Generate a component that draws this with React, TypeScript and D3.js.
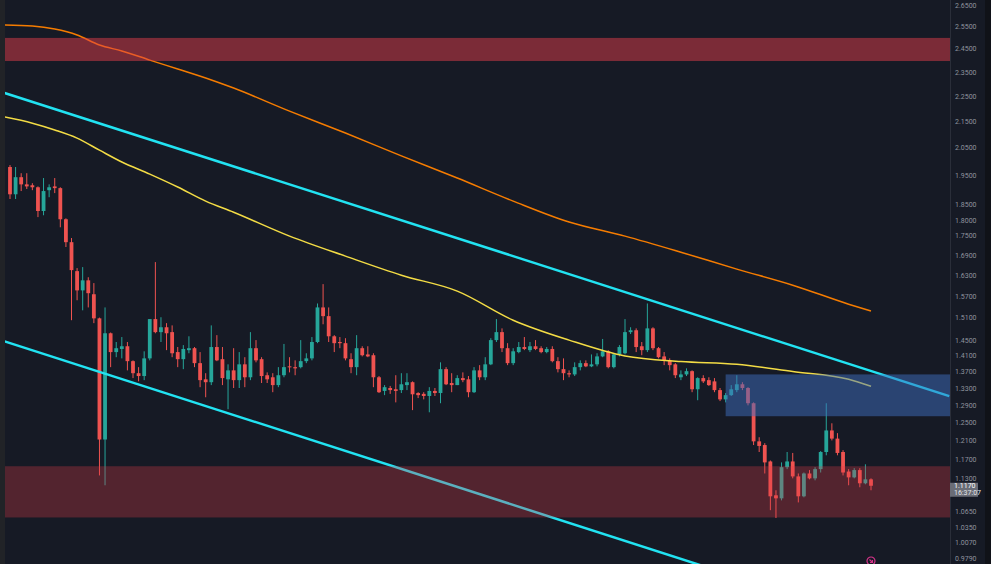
import * as d3 from "d3";

// OHLC per candle (log price axis)
const candles: [number, number, number, number][] = [
  [1.983, 1.990, 1.872, 1.888], [1.888, 1.983, 1.872, 1.947], [1.947, 1.961, 1.899, 1.922], [1.922, 1.961, 1.906, 1.915],
  [1.919, 1.926, 1.902, 1.912], [1.912, 1.915, 1.812, 1.832], [1.832, 1.944, 1.818, 1.899], [1.902, 1.922, 1.878, 1.912],
  [1.915, 1.944, 1.892, 1.909], [1.909, 1.912, 1.779, 1.805], [1.805, 1.808, 1.717, 1.732], [1.732, 1.745, 1.505, 1.647],
  [1.644, 1.653, 1.560, 1.588], [1.588, 1.656, 1.532, 1.617], [1.617, 1.626, 1.540, 1.580], [1.577, 1.609, 1.497, 1.510],
  [1.510, 1.512, 1.138, 1.214], [1.214, 1.540, 1.118, 1.470], [1.470, 1.472, 1.383, 1.421], [1.421, 1.447, 1.408, 1.431],
  [1.429, 1.460, 1.405, 1.436], [1.436, 1.447, 1.375, 1.398], [1.398, 1.400, 1.356, 1.368], [1.368, 1.383, 1.348, 1.361],
  [1.361, 1.423, 1.351, 1.405], [1.405, 1.508, 1.400, 1.508], [1.508, 1.671, 1.470, 1.473], [1.473, 1.513, 1.447, 1.486],
  [1.486, 1.497, 1.426, 1.470], [1.473, 1.491, 1.408, 1.418], [1.421, 1.434, 1.383, 1.403], [1.403, 1.439, 1.378, 1.429],
  [1.426, 1.462, 1.418, 1.431], [1.431, 1.434, 1.383, 1.393], [1.393, 1.421, 1.334, 1.351], [1.353, 1.368, 1.310, 1.346],
  [1.346, 1.491, 1.339, 1.434], [1.434, 1.465, 1.398, 1.400], [1.403, 1.434, 1.339, 1.356], [1.353, 1.390, 1.282, 1.375],
  [1.375, 1.431, 1.332, 1.351], [1.351, 1.421, 1.332, 1.390], [1.390, 1.408, 1.334, 1.358], [1.358, 1.473, 1.351, 1.431],
  [1.431, 1.452, 1.395, 1.400], [1.403, 1.408, 1.344, 1.361], [1.363, 1.370, 1.344, 1.353], [1.358, 1.368, 1.322, 1.339],
  [1.339, 1.383, 1.334, 1.363], [1.363, 1.442, 1.358, 1.383], [1.385, 1.408, 1.370, 1.383], [1.383, 1.400, 1.363, 1.380],
  [1.383, 1.452, 1.380, 1.398], [1.398, 1.418, 1.393, 1.405], [1.405, 1.460, 1.400, 1.447], [1.447, 1.551, 1.444, 1.540],
  [1.540, 1.606, 1.494, 1.516], [1.516, 1.540, 1.447, 1.462], [1.462, 1.465, 1.421, 1.444], [1.447, 1.460, 1.431, 1.444],
  [1.444, 1.457, 1.400, 1.405], [1.403, 1.418, 1.368, 1.383], [1.383, 1.465, 1.363, 1.431], [1.431, 1.436, 1.410, 1.413],
  [1.415, 1.436, 1.408, 1.410], [1.413, 1.418, 1.334, 1.358], [1.358, 1.361, 1.320, 1.322], [1.325, 1.339, 1.315, 1.334],
  [1.332, 1.337, 1.318, 1.327], [1.329, 1.363, 1.298, 1.325], [1.327, 1.368, 1.320, 1.341], [1.339, 1.368, 1.327, 1.346],
  [1.346, 1.348, 1.280, 1.317], [1.320, 1.322, 1.308, 1.315], [1.318, 1.322, 1.305, 1.313], [1.313, 1.334, 1.275, 1.325],
  [1.325, 1.332, 1.313, 1.320], [1.320, 1.395, 1.296, 1.378], [1.378, 1.383, 1.339, 1.341], [1.344, 1.368, 1.322, 1.339],
  [1.339, 1.363, 1.339, 1.356], [1.356, 1.370, 1.346, 1.351], [1.353, 1.361, 1.310, 1.322], [1.322, 1.383, 1.320, 1.375],
  [1.375, 1.388, 1.351, 1.358], [1.358, 1.408, 1.351, 1.390], [1.390, 1.457, 1.388, 1.452], [1.452, 1.508, 1.447, 1.473],
  [1.473, 1.483, 1.421, 1.431], [1.431, 1.444, 1.388, 1.393], [1.393, 1.431, 1.388, 1.423], [1.421, 1.447, 1.418, 1.434],
  [1.434, 1.460, 1.426, 1.429], [1.426, 1.447, 1.421, 1.436], [1.436, 1.452, 1.426, 1.429], [1.431, 1.436, 1.418, 1.421],
  [1.421, 1.434, 1.418, 1.429], [1.429, 1.436, 1.395, 1.398], [1.398, 1.408, 1.370, 1.378], [1.378, 1.405, 1.351, 1.368],
  [1.368, 1.375, 1.358, 1.365], [1.365, 1.395, 1.361, 1.383], [1.383, 1.400, 1.375, 1.393], [1.393, 1.400, 1.383, 1.385],
  [1.385, 1.415, 1.383, 1.390], [1.390, 1.418, 1.385, 1.410], [1.410, 1.455, 1.408, 1.423], [1.423, 1.426, 1.380, 1.383],
  [1.383, 1.418, 1.380, 1.415], [1.415, 1.439, 1.410, 1.434], [1.418, 1.508, 1.415, 1.473], [1.473, 1.486, 1.468, 1.478],
  [1.478, 1.483, 1.421, 1.434], [1.436, 1.447, 1.413, 1.426], [1.426, 1.551, 1.421, 1.483], [1.483, 1.486, 1.426, 1.431],
  [1.431, 1.434, 1.405, 1.408], [1.410, 1.421, 1.388, 1.400], [1.400, 1.405, 1.375, 1.388], [1.390, 1.393, 1.356, 1.363],
  [1.358, 1.375, 1.351, 1.365], [1.365, 1.380, 1.361, 1.373], [1.373, 1.375, 1.322, 1.329], [1.329, 1.358, 1.303, 1.356],
  [1.356, 1.363, 1.344, 1.348], [1.351, 1.358, 1.337, 1.339], [1.348, 1.356, 1.322, 1.327], [1.327, 1.332, 1.301, 1.305],
  [1.305, 1.320, 1.298, 1.315], [1.315, 1.339, 1.313, 1.329], [1.327, 1.363, 1.322, 1.341], [1.341, 1.346, 1.327, 1.332],
  [1.332, 1.334, 1.291, 1.296], [1.296, 1.298, 1.202, 1.210], [1.210, 1.219, 1.187, 1.200], [1.202, 1.206, 1.142, 1.165],
  [1.167, 1.169, 1.069, 1.096], [1.098, 1.108, 1.054, 1.092], [1.092, 1.165, 1.088, 1.155], [1.155, 1.187, 1.151, 1.167],
  [1.167, 1.185, 1.132, 1.136], [1.136, 1.142, 1.084, 1.096], [1.096, 1.144, 1.094, 1.142], [1.142, 1.149, 1.130, 1.132],
  [1.132, 1.155, 1.128, 1.151], [1.151, 1.189, 1.144, 1.187], [1.187, 1.296, 1.180, 1.234], [1.234, 1.250, 1.212, 1.216],
  [1.216, 1.228, 1.180, 1.185], [1.187, 1.191, 1.138, 1.144], [1.146, 1.151, 1.118, 1.134], [1.134, 1.153, 1.132, 1.149],
  [1.149, 1.153, 1.114, 1.122], [1.122, 1.161, 1.120, 1.130], [1.130, 1.132, 1.108, 1.117],
];

// moving averages sampled at candle indices
const maIndex = [-1, 4, 8, 12, 16, 20, 25, 30, 35, 40, 50, 60, 70, 80, 90, 100, 110, 120, 130, 140, 150, 154];
const maSlow = [2.561, 2.556, 2.542, 2.515, 2.470, 2.444, 2.404, 2.366, 2.328, 2.286, 2.193, 2.108, 2.023, 1.944, 1.865, 1.796, 1.751, 1.701, 1.650, 1.603, 1.549, 1.530];
const maFast = [2.170, 2.146, 2.120, 2.089, 2.044, 2.001, 1.958, 1.913, 1.865, 1.828, 1.751, 1.689, 1.632, 1.586, 1.505, 1.452, 1.411, 1.397, 1.390, 1.372, 1.353, 1.336];

// descending channel: [index, price] anchors
const channelTop: [number, number][] = [[-1, 2.266], [168, 1.3126]];
const channelBottom: [number, number][] = [[-1, 1.449], [130, 0.948]];

// zones: [fromIndex, lowPrice, highPrice]
const resistZone: [number, number, number] = [-1, 2.40, 2.502];
const supportZone: [number, number, number] = [-1, 1.055, 1.157];
const blueZone: [number, number, number] = [128, 1.266, 1.365];

const priceTicks = [2.65, 2.55, 2.45, 2.35, 2.25, 2.15, 2.05, 1.95, 1.85, 1.8, 1.75, 1.69, 1.63, 1.57, 1.51, 1.45, 1.41, 1.37, 1.33, 1.29, 1.25, 1.21, 1.17, 1.13, 1.065, 1.035, 1.007, 0.979];
const lastPrice = 1.117;
const lastTime = "16:37:07";

const W = 991;
const H = 564;
const plotLeft = 5;
const plotRight = 950;

const bg = "#161a25";
const up = "#26a69a";
const down = "#ef5350";

export default function App() {
  const x = d3.scaleLinear().domain([0, candles.length - 1]).range([10, 871]);
  const y = d3.scaleLog().domain([0.979, 2.65]).range([559, 6]);
  const bodyW = 3.8;

  const maLine = d3
    .line<number>()
    .x((_, i) => x(maIndex[i]))
    .y((d) => y(d))
    .curve(d3.curveMonotoneX);

  const seg = d3
    .line<[number, number]>()
    .x((d) => x(d[0]))
    .y((d) => y(d[1]));

  const zoneRect = (z: [number, number, number], fill: string, op: number) => (
    <rect
      x={Math.max(plotLeft, x(z[0]))}
      y={y(z[2])}
      width={plotRight - Math.max(plotLeft, x(z[0]))}
      height={y(z[1]) - y(z[2])}
      fill={fill}
      fillOpacity={op}
    />
  );

  const ly = y(lastPrice);

  return (
    <div style={{ position: "fixed", left: 0, top: 0 }}>
      <svg width={W} height={H} style={{ display: "block" }}>
        <defs>
          <clipPath id="plot">
            <rect x={plotLeft} y={0} width={plotRight - plotLeft} height={H} />
          </clipPath>
        </defs>
        <rect width={W} height={H} fill={bg} />
        <rect x={0} y={0} width={plotLeft} height={H} fill="#212327" />

        <g clipPath="url(#plot)">
          {candles.map((c, i) => {
            const [o, h, l, cl] = c;
            const col = cl >= o ? up : down;
            const top = y(Math.max(o, cl));
            const bot = y(Math.min(o, cl));
            return (
              <g key={i}>
                <line x1={x(i)} x2={x(i)} y1={y(h)} y2={y(l)} stroke={col} strokeWidth={1} />
                <rect x={x(i) - bodyW / 2} y={top} width={bodyW} height={Math.max(1, bot - top)} fill={col} />
              </g>
            );
          })}

          <path d={maLine(maSlow) ?? ""} fill="none" stroke="#f57c00" strokeWidth={1.5} />
          <path d={maLine(maFast) ?? ""} fill="none" stroke="#f3dc45" strokeWidth={1.5} />

          <path d={seg(channelTop) ?? ""} fill="none" stroke="#22e3f2" strokeWidth={2.5} />
          <path d={seg(channelBottom) ?? ""} fill="none" stroke="#22e3f2" strokeWidth={2.5} />

          {zoneRect(resistZone, "#e03c49", 0.5)}
          {zoneRect(supportZone, "#e03c49", 0.3)}
          {zoneRect(blueZone, "#3d6ec0", 0.5)}
        </g>

        <line x1={plotRight + 0.5} x2={plotRight + 0.5} y1={0} y2={H} stroke="#2a2e39" />
        <g fontFamily="Roboto, 'DejaVu Sans', sans-serif" fontSize={7} fill="#8f939d">
          {priceTicks.map((t) => (
            <text key={t} x={955} y={y(t)} dominantBaseline="middle">
              {t.toFixed(4)}
            </text>
          ))}
        </g>
        <rect x={plotRight} y={ly - 3} width={28} height={14} fill="#6a6d77" />
        <g fontFamily="Roboto, 'DejaVu Sans', sans-serif" fontSize={7} fill="#ffffff">
          <text x={954} y={ly + 0.5} dominantBaseline="middle">{lastPrice.toFixed(4)}</text>
          <text x={954} y={ly + 7.5} dominantBaseline="middle" fill="#e4e5e8">{lastTime}</text>
        </g>
        <rect x={985} y={0} width={6} height={H} fill="#101218" />

        <g transform={`translate(${x(candles.length - 1)},${H - 3})`} fill="none" stroke="#d6338a" strokeWidth={1.2}>
          <circle r={4} />
          <path d="M-1.5,-1.5 L1.5,1.5 M1.5,-1 L1.5,1.5 L-1,1.5" />
        </g>
      </svg>
    </div>
  );
}
